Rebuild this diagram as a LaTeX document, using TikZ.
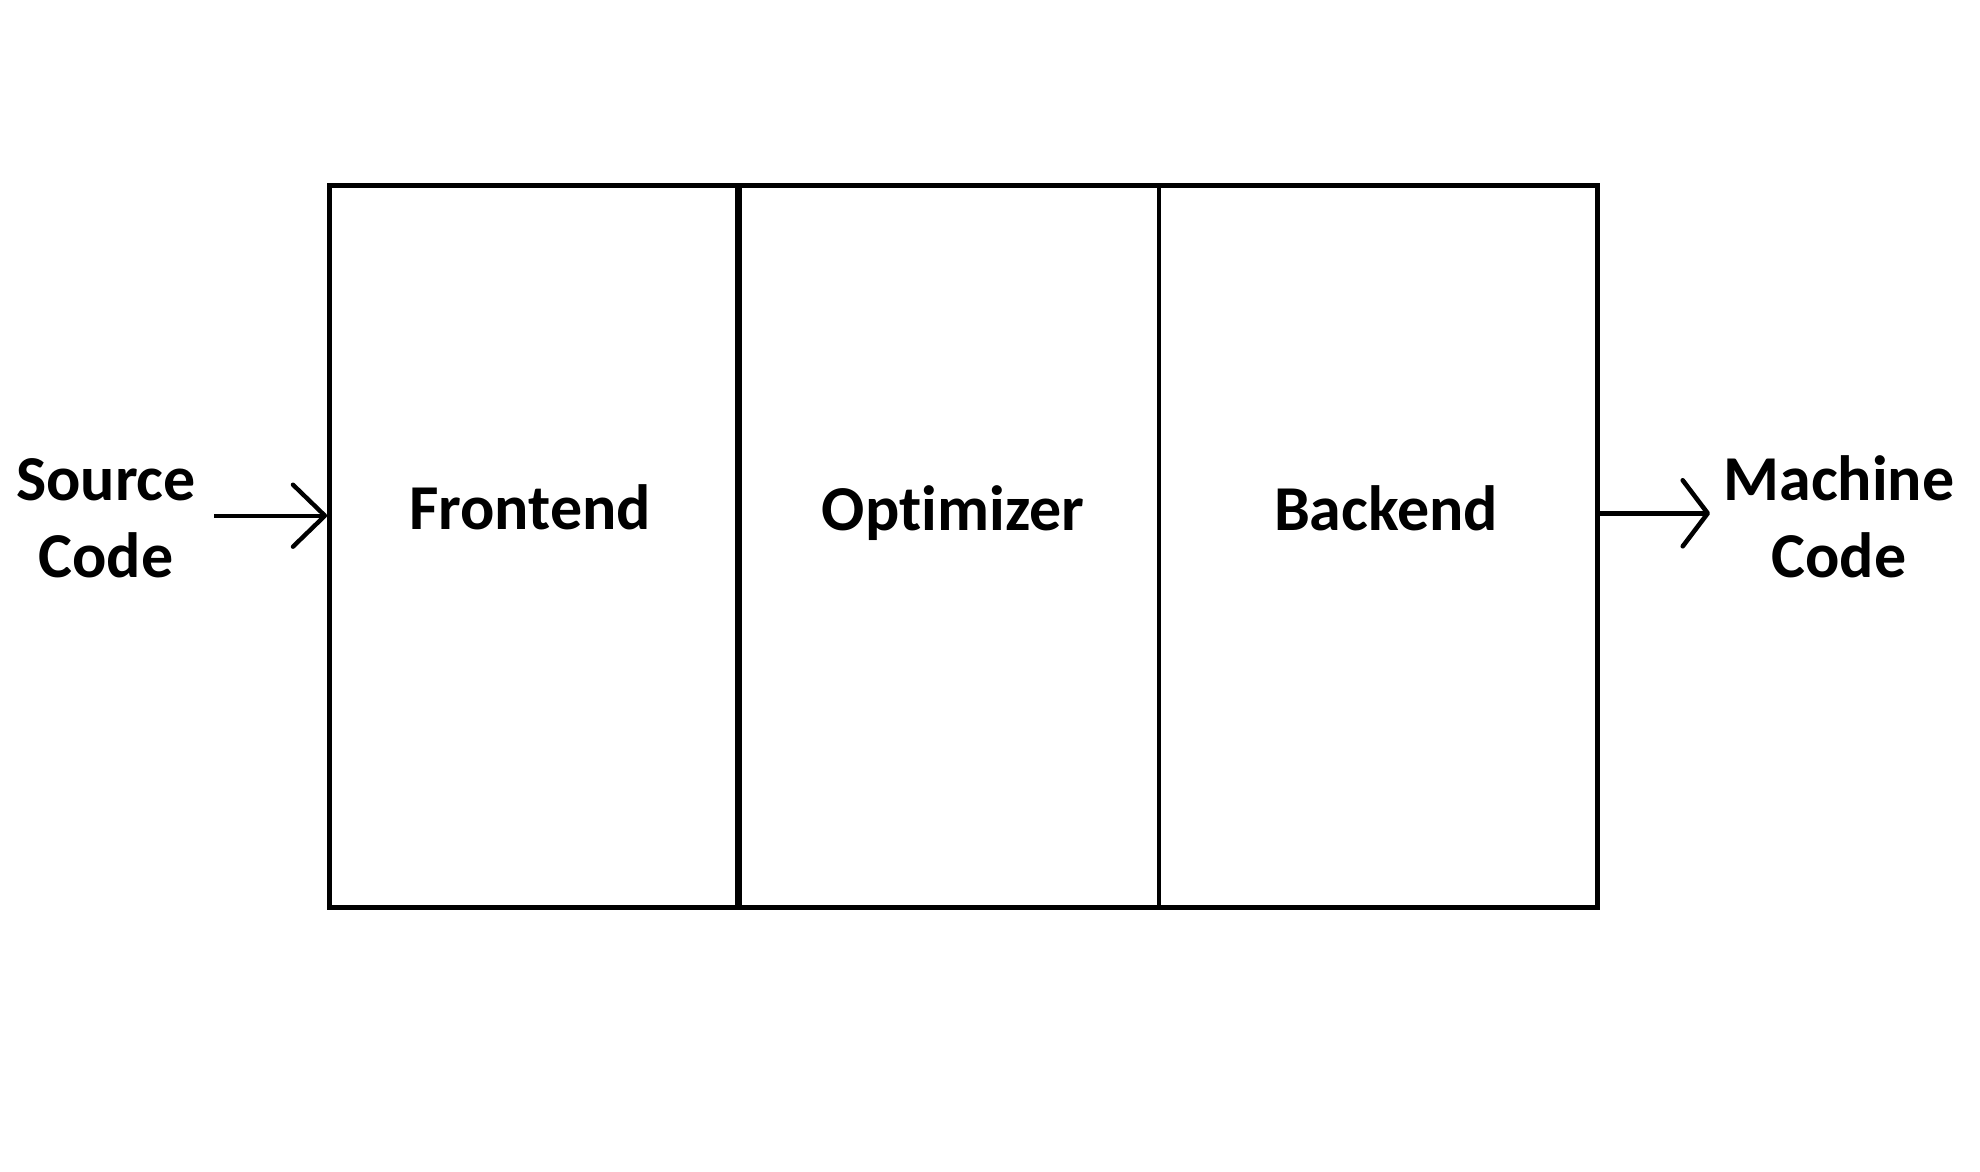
\documentclass[tikz,border=0pt]{standalone}
\usepackage{fontspec}
\setmainfont{Carlito}[Ligatures=NoCommon]
\usepackage{tikz}
\usetikzlibrary{positioning}
\usetikzlibrary{arrows.meta}
\tikzset{
    stackbox/.style = {rectangle, line width=1.4pt, draw=black, minimum width=12.68cm, minimum height=7.22cm, inner sep=0pt},
    stagetext/.style = {anchor=base, inner sep=0pt, font=\fontsize{18.2pt}{21.9pt}\selectfont\bfseries, text=black},
    iotext/.style = {anchor=base, inner sep=0pt, align=center, font=\fontsize{18.2pt}{21.9pt}\selectfont\bfseries, text=black},
    divthick/.style = {-, line width=2.0pt, black},
    divthin/.style = {-, line width=1.1pt, black},
    edgein/.style = {-{Straight Barb[length=3.2mm,width=6.2mm,round]}, line width=1.25pt, black},
    edgeout/.style = {-{Straight Barb[length=2.5mm,width=6.6mm,round]}, line width=1.3pt, black}
}
\begin{document}
\begin{tikzpicture}
\useasboundingbox (0,0) rectangle (19.8,11.71);
\node[stackbox] at (9.636, 6.246) (stack) {};
\draw[divthick] (7.387, 9.857) -- (7.387, 2.635);
\draw[divthin] (11.59, 9.857) -- (11.59, 2.635);
%
\node[stagetext] at (5.30, 6.417) (frontend) {Frontend};
\node[stagetext] at (9.53, 6.41) (optimizer) {Optimizer};
\node[stagetext] at (13.86, 6.403) (backend) {Backend};
%
\node[iotext] at (1.06, 5.933) (source) {Source\\Code};
\node[iotext] at (18.39, 5.933) (machine) {Machine\\Code};
%
\coordinate (srcend) at (2.14, 6.553);
\coordinate (mcend) at (17.10, 6.577);
\draw[edgein] (srcend) -- (srcend -| stack.west);
\draw[edgeout] (mcend -| stack.east) -- (mcend);
\end{tikzpicture}
\end{document}
